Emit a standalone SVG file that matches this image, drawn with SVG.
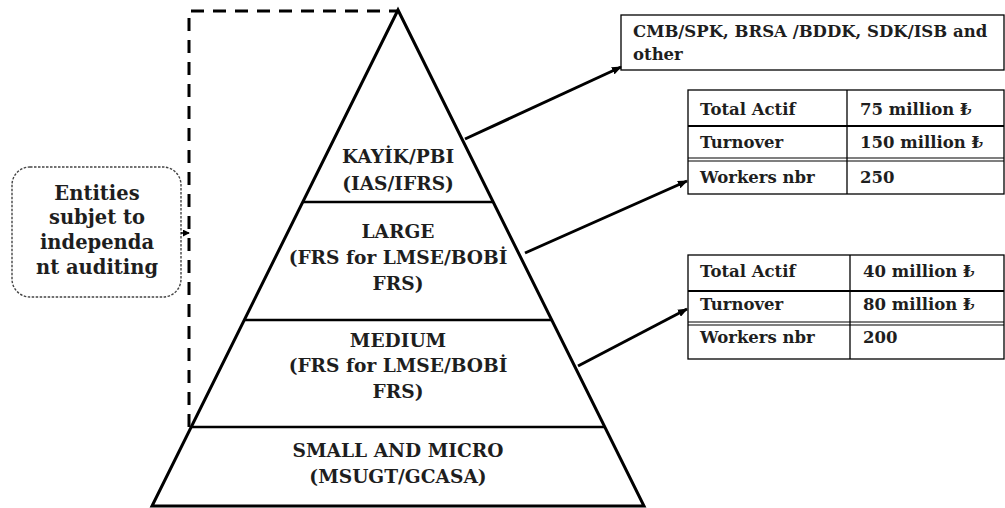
<svg xmlns="http://www.w3.org/2000/svg" width="1005" height="508" viewBox="0 0 1005 508">
<defs>
<marker id="ah" viewBox="0 0 10 8" refX="9" refY="4" markerWidth="10" markerHeight="8" markerUnits="userSpaceOnUse" orient="auto">
<path d="M0,0 L10,4 L0,8 Z" fill="#000"/>
</marker>
<marker id="ahs" viewBox="0 0 8 8" refX="7" refY="4" markerWidth="7" markerHeight="7" markerUnits="userSpaceOnUse" orient="auto">
<path d="M0,0 L8,4 L0,8 Z" fill="#000"/>
</marker>
</defs>
<style>
.t{font-family:"DejaVu Serif","Liberation Serif",serif;font-weight:bold;fill:#1e1e1e}
.p{font-size:18.6px;text-anchor:middle}
.e{font-size:19.5px;text-anchor:middle}
.s{font-size:16.5px}
.ln{stroke:#000;stroke-width:3;fill:none}
.dv{stroke:#000;stroke-width:2.5;fill:none}
.tb{stroke:#000;stroke-width:1.3;fill:#fff}
.conn{stroke:#000;stroke-width:3;fill:none}
</style>
<rect width="1005" height="508" fill="#fff"/>

<g id="audit-frame">
<path d="M189,427 L189,11 L398,11" fill="none" stroke="#000" stroke-width="3" stroke-dasharray="13 9"/>
</g>

<g id="pyramid">
<path class="ln" d="M398,10 L152,506 L644,506 Z"/>
<line class="dv" x1="303" y1="202" x2="493" y2="202"/>
<line class="dv" x1="244" y1="320" x2="552" y2="320"/>
<line class="dv" x1="191" y1="427" x2="605" y2="427"/>
</g>

<g id="node-kayik">
<text class="t p" x="398" y="163">KAYİK/PBI</text>
<text class="t p" x="398" y="190">(IAS/IFRS)</text>
</g>
<g id="node-large">
<text class="t p" x="398" y="238">LARGE</text>
<text class="t p" x="398" y="264">(FRS for LMSE/BOBİ</text>
<text class="t p" x="398" y="290">FRS)</text>
</g>
<g id="node-medium">
<text class="t p" x="398" y="347">MEDIUM</text>
<text class="t p" x="398" y="372">(FRS for LMSE/BOBİ</text>
<text class="t p" x="398" y="398">FRS)</text>
</g>
<g id="node-small">
<text class="t p" x="398" y="457">SMALL AND MICRO</text>
<text class="t p" x="398" y="483">(MSUGT/GCASA)</text>
</g>

<g id="node-entities">
<rect x="12" y="167" width="169" height="130" rx="18" ry="18" fill="#fff" stroke="#444" stroke-width="1.4" stroke-dasharray="2.5 1.5"/>
<text class="t e" x="97" y="200">Entities</text>
<text class="t e" x="97" y="224">subjet to</text>
<text class="t e" x="97" y="249">independa</text>
<text class="t e" x="97" y="274">nt auditing</text>
</g>

<g id="node-regulators">
<rect class="tb" x="621" y="15" width="383" height="55"/>
<text class="t s" x="633" y="37">CMB/SPK, BRSA /BDDK, SDK/ISB and</text>
<text class="t s" x="633" y="60">other</text>
</g>

<g id="node-table-large">
<rect class="tb" x="688" y="90" width="316" height="104"/>
<line class="tb" x1="847" y1="90" x2="847" y2="194"/>
<line x1="688" y1="126" x2="1004" y2="126" stroke="#000" stroke-width="2.2"/>
<line x1="688" y1="158" x2="1004" y2="158" stroke="#000" stroke-width="1.2"/>
<line x1="688" y1="161" x2="1004" y2="161" stroke="#000" stroke-width="1.2"/>
<text class="t s" x="700" y="115">Total Actif</text>
<text class="t s" x="700" y="148">Turnover</text>
<text class="t s" x="700" y="183">Workers nbr</text>
<text class="t s" x="860" y="115">75 million ₺</text>
<text class="t s" x="860" y="148">150 million ₺</text>
<text class="t s" x="860" y="183">250</text>
</g>

<g id="node-table-medium">
<rect class="tb" x="688" y="255" width="316" height="104"/>
<line class="tb" x1="850" y1="255" x2="850" y2="359"/>
<line x1="688" y1="291" x2="1004" y2="291" stroke="#000" stroke-width="2.2"/>
<line x1="688" y1="322" x2="1004" y2="322" stroke="#000" stroke-width="1.2"/>
<line x1="688" y1="325" x2="1004" y2="325" stroke="#000" stroke-width="1.2"/>
<text class="t s" x="700" y="277">Total Actif</text>
<text class="t s" x="700" y="310">Turnover</text>
<text class="t s" x="700" y="343">Workers nbr</text>
<text class="t s" x="863" y="277">40 million ₺</text>
<text class="t s" x="863" y="310">80 million ₺</text>
<text class="t s" x="863" y="343">200</text>
</g>

<g id="connectors">
<line class="conn" x1="465" y1="139" x2="621" y2="67" marker-end="url(#ah)"/>
<line class="conn" x1="525" y1="253" x2="687" y2="181" marker-end="url(#ah)"/>
<line class="conn" x1="578" y1="366" x2="687" y2="309" marker-end="url(#ah)"/>
<line x1="181" y1="233" x2="189" y2="233" stroke="#000" stroke-width="1.5" marker-end="url(#ahs)"/>
</g>
</svg>
